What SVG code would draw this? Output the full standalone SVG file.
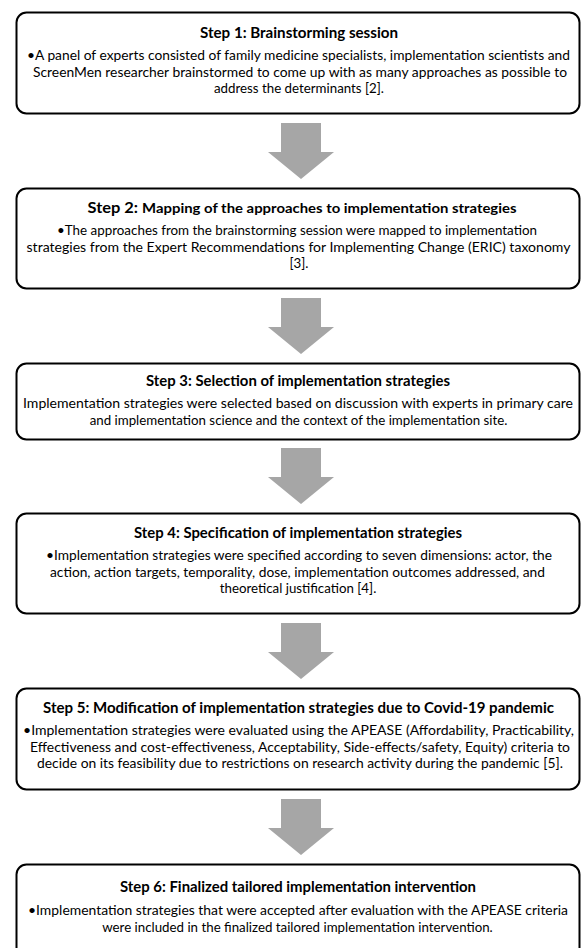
<svg xmlns="http://www.w3.org/2000/svg" width="581" height="948" viewBox="0 0 581 948">
<style>
.box{fill:#ffffff;stroke:#000000;stroke-width:2}
.arrow{fill:#a6a6a6}
.t{font-family:Lato,"Liberation Sans",sans-serif;font-weight:bold;font-size:14.7px;fill:#000;text-anchor:middle}
.ts{font-size:13.3px}
.b{font-family:Lato,"Liberation Sans",sans-serif;font-size:13.3px;fill:#000;text-anchor:middle}
</style>
<rect width="581" height="948" fill="#ffffff"/>
<g id="connectors">
<polygon class="arrow" points="281,123 321,123 321,152 334,152 301,179 268,152 281,152"/>
<polygon class="arrow" points="281,298 321,298 321,327 334,327 301,354 268,327 281,327"/>
<polygon class="arrow" points="281,448 321,448 321,477 334,477 301,504 268,477 281,477"/>
<polygon class="arrow" points="281,623 321,623 321,652 334,652 301,679 268,652 281,652"/>
<polygon class="arrow" points="281,799 321,799 321,828 334,828 301,855 268,828 281,828"/>
</g>
<g id="step1">
<rect class="box" x="16.5" y="12.5" width="563" height="101" rx="10"/>
<text class="t" x="299" y="38" textLength="198" lengthAdjust="spacingAndGlyphs">Step 1: Brainstorming session</text>
<text class="b" x="298.5" y="60" textLength="543" lengthAdjust="spacingAndGlyphs">•A panel of experts consisted of family medicine specialists, implementation scientists and</text>
<text class="b" x="300" y="76.5" textLength="534" lengthAdjust="spacingAndGlyphs">ScreenMen researcher brainstormed to come up with as many approaches as possible to</text>
<text class="b" x="299" y="93">address the determinants [2].</text>
</g>
<g id="step2">
<rect class="box" x="16.5" y="188.5" width="563" height="100" rx="10"/>
<text class="t" x="302" y="213" textLength="429" lengthAdjust="spacingAndGlyphs">Step 2: <tspan class="ts">Mapping of the approaches to implementation strategies</tspan></text>
<text class="b" x="297" y="235" textLength="480" lengthAdjust="spacingAndGlyphs">•The approaches from the brainstorming session were mapped to implementation</text>
<text class="b" x="298.5" y="251.5" textLength="544" lengthAdjust="spacingAndGlyphs">strategies from the Expert Recommendations for Implementing Change (ERIC) taxonomy</text>
<text class="b" x="299" y="268">[3].</text>
</g>
<g id="step3">
<rect class="box" x="16.5" y="363.5" width="563" height="76" rx="10"/>
<text class="t" x="298" y="386" textLength="304" lengthAdjust="spacingAndGlyphs">Step 3: Selection of implementation strategies</text>
<text class="b" x="298" y="408" textLength="550" lengthAdjust="spacingAndGlyphs">Implementation strategies were selected based on discussion with experts in primary care</text>
<text class="b" x="298.5" y="424.5">and implementation science and the context of the implementation site.</text>
</g>
<g id="step4">
<rect class="box" x="16.5" y="513.5" width="563" height="100" rx="10"/>
<text class="t" x="298" y="538" textLength="328" lengthAdjust="spacingAndGlyphs">Step 4: Specification of implementation strategies</text>
<text class="b" x="299" y="560" textLength="506" lengthAdjust="spacingAndGlyphs">•Implementation strategies were specified according to seven dimensions: actor, the</text>
<text class="b" x="297.5" y="576.5" textLength="495" lengthAdjust="spacingAndGlyphs">action, action targets, temporality, dose, implementation outcomes addressed, and</text>
<text class="b" x="298" y="593">theoretical justification [4].</text>
</g>
<g id="step5">
<rect class="box" x="16.5" y="688.5" width="563" height="101" rx="10"/>
<text class="t" x="298.5" y="713" textLength="511" lengthAdjust="spacingAndGlyphs">Step 5: Modification of implementation strategies due to Covid-19 pandemic</text>
<text class="b" x="298.5" y="735" textLength="551" lengthAdjust="spacingAndGlyphs">•Implementation strategies were evaluated using the APEASE (Affordability, Practicability,</text>
<text class="b" x="300" y="751.5" textLength="540" lengthAdjust="spacingAndGlyphs">Effectiveness and cost-effectiveness, Acceptability, Side-effects/safety, Equity) criteria to</text>
<text class="b" x="300" y="768" textLength="526" lengthAdjust="spacingAndGlyphs">decide on its feasibility due to restrictions on research activity during the pandemic [5].</text>
</g>
<g id="step6">
<rect class="box" x="16.5" y="864.5" width="563" height="120" rx="10"/>
<text class="t" x="298" y="892" textLength="356" lengthAdjust="spacingAndGlyphs">Step 6: Finalized tailored implementation intervention</text>
<text class="b" x="298" y="915" textLength="540" lengthAdjust="spacingAndGlyphs">•Implementation strategies that were accepted after evaluation with the APEASE criteria</text>
<text class="b" x="297.5" y="931.5">were included in the finalized tailored implementation intervention.</text>
</g>
</svg>
